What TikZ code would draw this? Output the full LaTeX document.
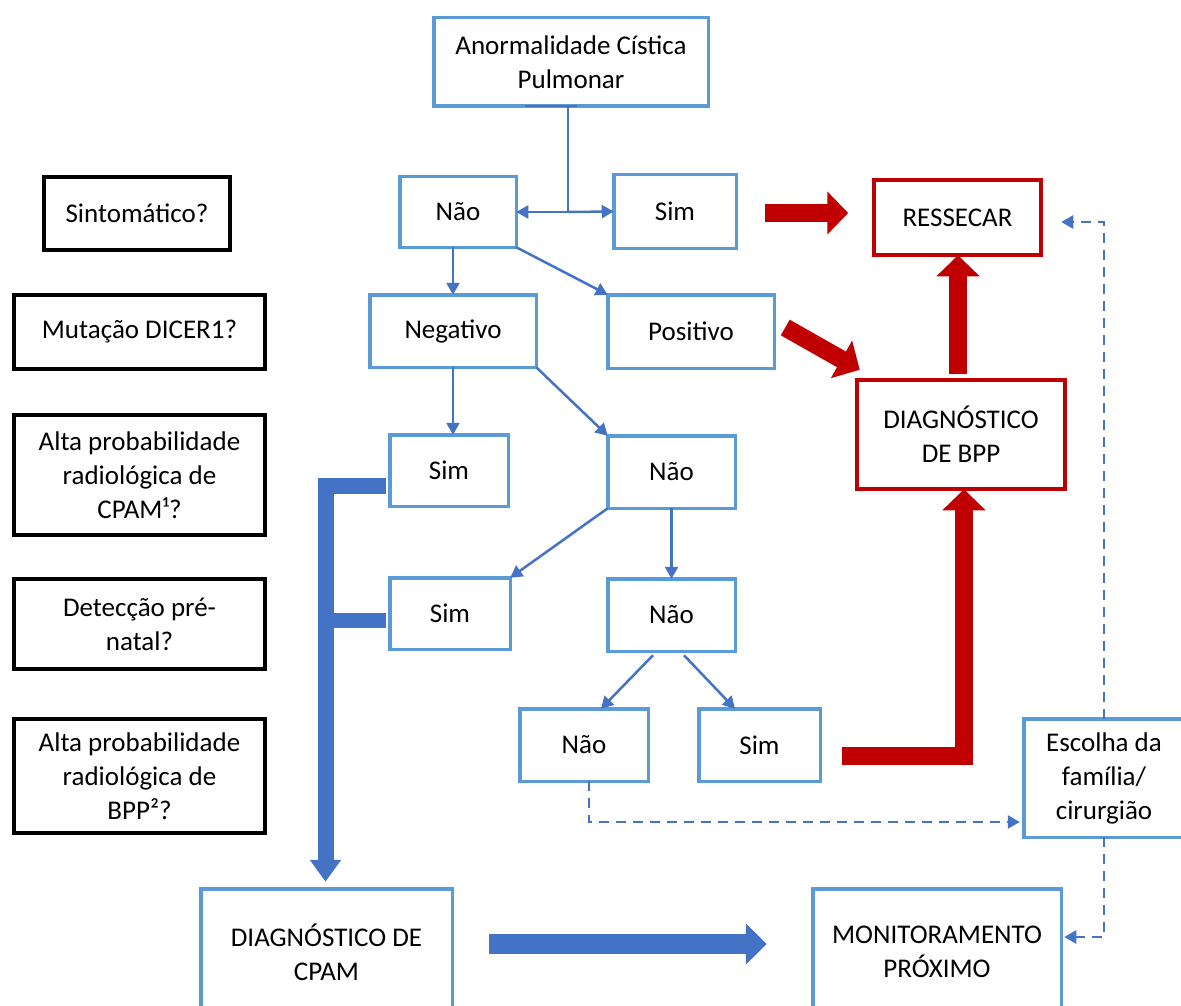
\documentclass[tikz,border=0pt]{standalone}
\usepackage{fontspec}
\setmainfont{Carlito}
\usetikzlibrary{arrows.meta,calc}
\definecolor{bb}{HTML}{5B9BD5}
\definecolor{ab}{HTML}{4472C4}
\definecolor{rd}{HTML}{C00000}
\newcommand\fs{\fontsize{27}{34}\selectfont}
\newcommand\bx[7]{\node[#6, minimum width={(#4-#2-3.5)*1pt}, minimum height={(#5-#3-3.5)*1pt}] (#1) at ({(#2+#4)/2},{(#3+#5)/2}) {#7};}
\tikzset{
  base/.style={draw, rectangle, inner sep=0pt, outer sep=0pt, align=center, font=\fs, text=black},
  bluebox/.style={base, draw=bb, line width=3.5pt},
  blackbox/.style={base, draw=black, line width=4pt},
  redbox/.style={base, draw=rd, line width=4pt},
  link/.style={draw=ab, line width=2.5pt, -{Triangle[length=12pt,width=13pt]}},
  dashlink/.style={draw=ab, line width=2.5pt, dash pattern=on 10pt off 7pt, -{Triangle[length=12pt,width=13pt]}},
  fatred/.style={draw=rd, line width=18pt, line join=miter, -{Triangle[length=21pt,width=42pt]}},
  fatblue/.style={draw=ab, line width=20pt, line join=miter, -{Triangle[length=21pt,width=40pt]}},
}
\begin{document}
\begin{tikzpicture}[x=1pt,y=-1pt]
\useasboundingbox (0,0) rectangle (1181,1006);
\clip (0,0) rectangle (1181,1006);
% left question boxes
\bx{q1}{42}{175}{232}{252}{blackbox}{Sintomático?}
\bx{q2}{12}{293}{267}{371}{blackbox}{Mutação DICER1?}
\bx{q3}{12}{413}{267}{537}{blackbox}{Alta probabilidade\\radiológica de\\CPAM¹?}
\bx{q4}{12}{577}{267}{671}{blackbox}{Detecção pré-\\natal?}
\bx{q5}{12}{717}{267}{835}{blackbox}{Alta probabilidade\\radiológica de\\BPP²?}
% flow boxes
\bx{a}{432}{16}{710}{108}{bluebox}{Anormalidade Cística\\Pulmonar}
\bx{nao1}{398}{175}{518}{249}{bluebox}{Não}
\bx{sim0}{612}{173}{738}{250}{bluebox}{Sim}
\bx{res}{872}{178}{1043}{257}{redbox}{RESSECAR}
\bx{neg}{368}{293}{538}{369}{bluebox}{Negativo}
\bx{pos}{606}{293}{776}{370}{bluebox}{Positivo}
\bx{bpp}{855}{378}{1067}{491}{redbox}{DIAGNÓSTICO\\DE BPP}
\bx{sim1}{388}{433}{510}{508}{bluebox}{Sim}
\bx{nao2}{606}{434}{737}{510}{bluebox}{Não}
\bx{sim2}{388}{576}{512}{651}{bluebox}{Sim}
\bx{nao3}{606}{577}{737}{653}{bluebox}{Não}
\bx{nao4}{518}{707}{650}{783}{bluebox}{Não}
\bx{sim3}{697}{707}{822}{783}{bluebox}{Sim}
\bx{esc}{1022}{717}{1186}{839}{bluebox}{Escolha da\\família/\\cirurgião}
\bx{cpam}{199}{887}{454}{1017}{bluebox}{DIAGNÓSTICO DE\\CPAM}
\bx{mon}{811}{887}{1063}{1017}{bluebox}{MONITORAMENTO\\PRÓXIMO}
% top connector
\coordinate (top) at ($(a.south)+(-3,0)$);
\coordinate (j) at (top |- nao1.east);
\draw[ab, line width=2.5pt] ($(a.south)+(-46,0)$) -- ($(a.south)+(6,0)$);
\draw[ab, line width=2.5pt] (top) -- (j);
\draw[link] (j) -- (nao1.east);
\draw[link] (j) -- (sim0.west);
% thin arrows
\draw[link] (nao1.south -| neg.north) -- (neg.north);
\draw[link] (nao1.south east) -- (pos.north west);
\draw[link] (neg.south) -- (neg.south |- sim1.north);
\draw[link] (neg.south east) -- (nao2.north west);
\draw[link] (nao2.south west) -- (sim2.north east);
\draw[link] (nao2.south) -- (nao3.north);
\draw[link] ($(nao3.south)+(-18.5,4)$) -- ($(nao4.north)+(17,0)$);
\draw[link] ($(nao3.south)+(12.5,4)$) -- ($(sim3.north)+(-24.5,0)$);
% red fat arrows
\draw[fatred] ($(sim0.east)+(29,1.5)$) -- ($(sim0.east)+(112,1.5)$);
\draw[fatred] ($(pos.east)+(11,-4)$) -- ($(bpp.north west)+(3,-10)$);
\coordinate (u1) at ($(bpp.north)+(-3,-6)$);
\draw[fatred] (u1) -- (u1 |- res.south);
\coordinate (l1) at ($(sim3.east)+(22,11)$);
\draw[fatred] (l1) -| ($(bpp.south)+(3,0)$);
% blue fat arrows
\draw[fatblue] ($(cpam.east)+(37,-8)$) -- ($(mon.west)+(-46,-8)$);
\draw[draw=ab, line width=16pt, line join=miter, -{Triangle[length=22pt,width=30pt]}] ($(sim1.west)+(-4,15.5)$) -| ($(cpam.north)+(-1,-7)$);
\draw[draw=ab, line width=15pt] ($(sim2.west)+(-4,6.5)$) -- ($(sim2.west)+(-63,6.5)$);
% dashed
\draw[dashlink] ($(nao4.south)+(5,0)$) |- ($(esc.west)+(-4,44)$);
\draw[dashlink] (esc.north) |- ($(res.east)+(20,4.5)$);
\draw[dashlink] (esc.south) |- ($(mon.east)+(3,-15)$);
\end{tikzpicture}
\end{document}
